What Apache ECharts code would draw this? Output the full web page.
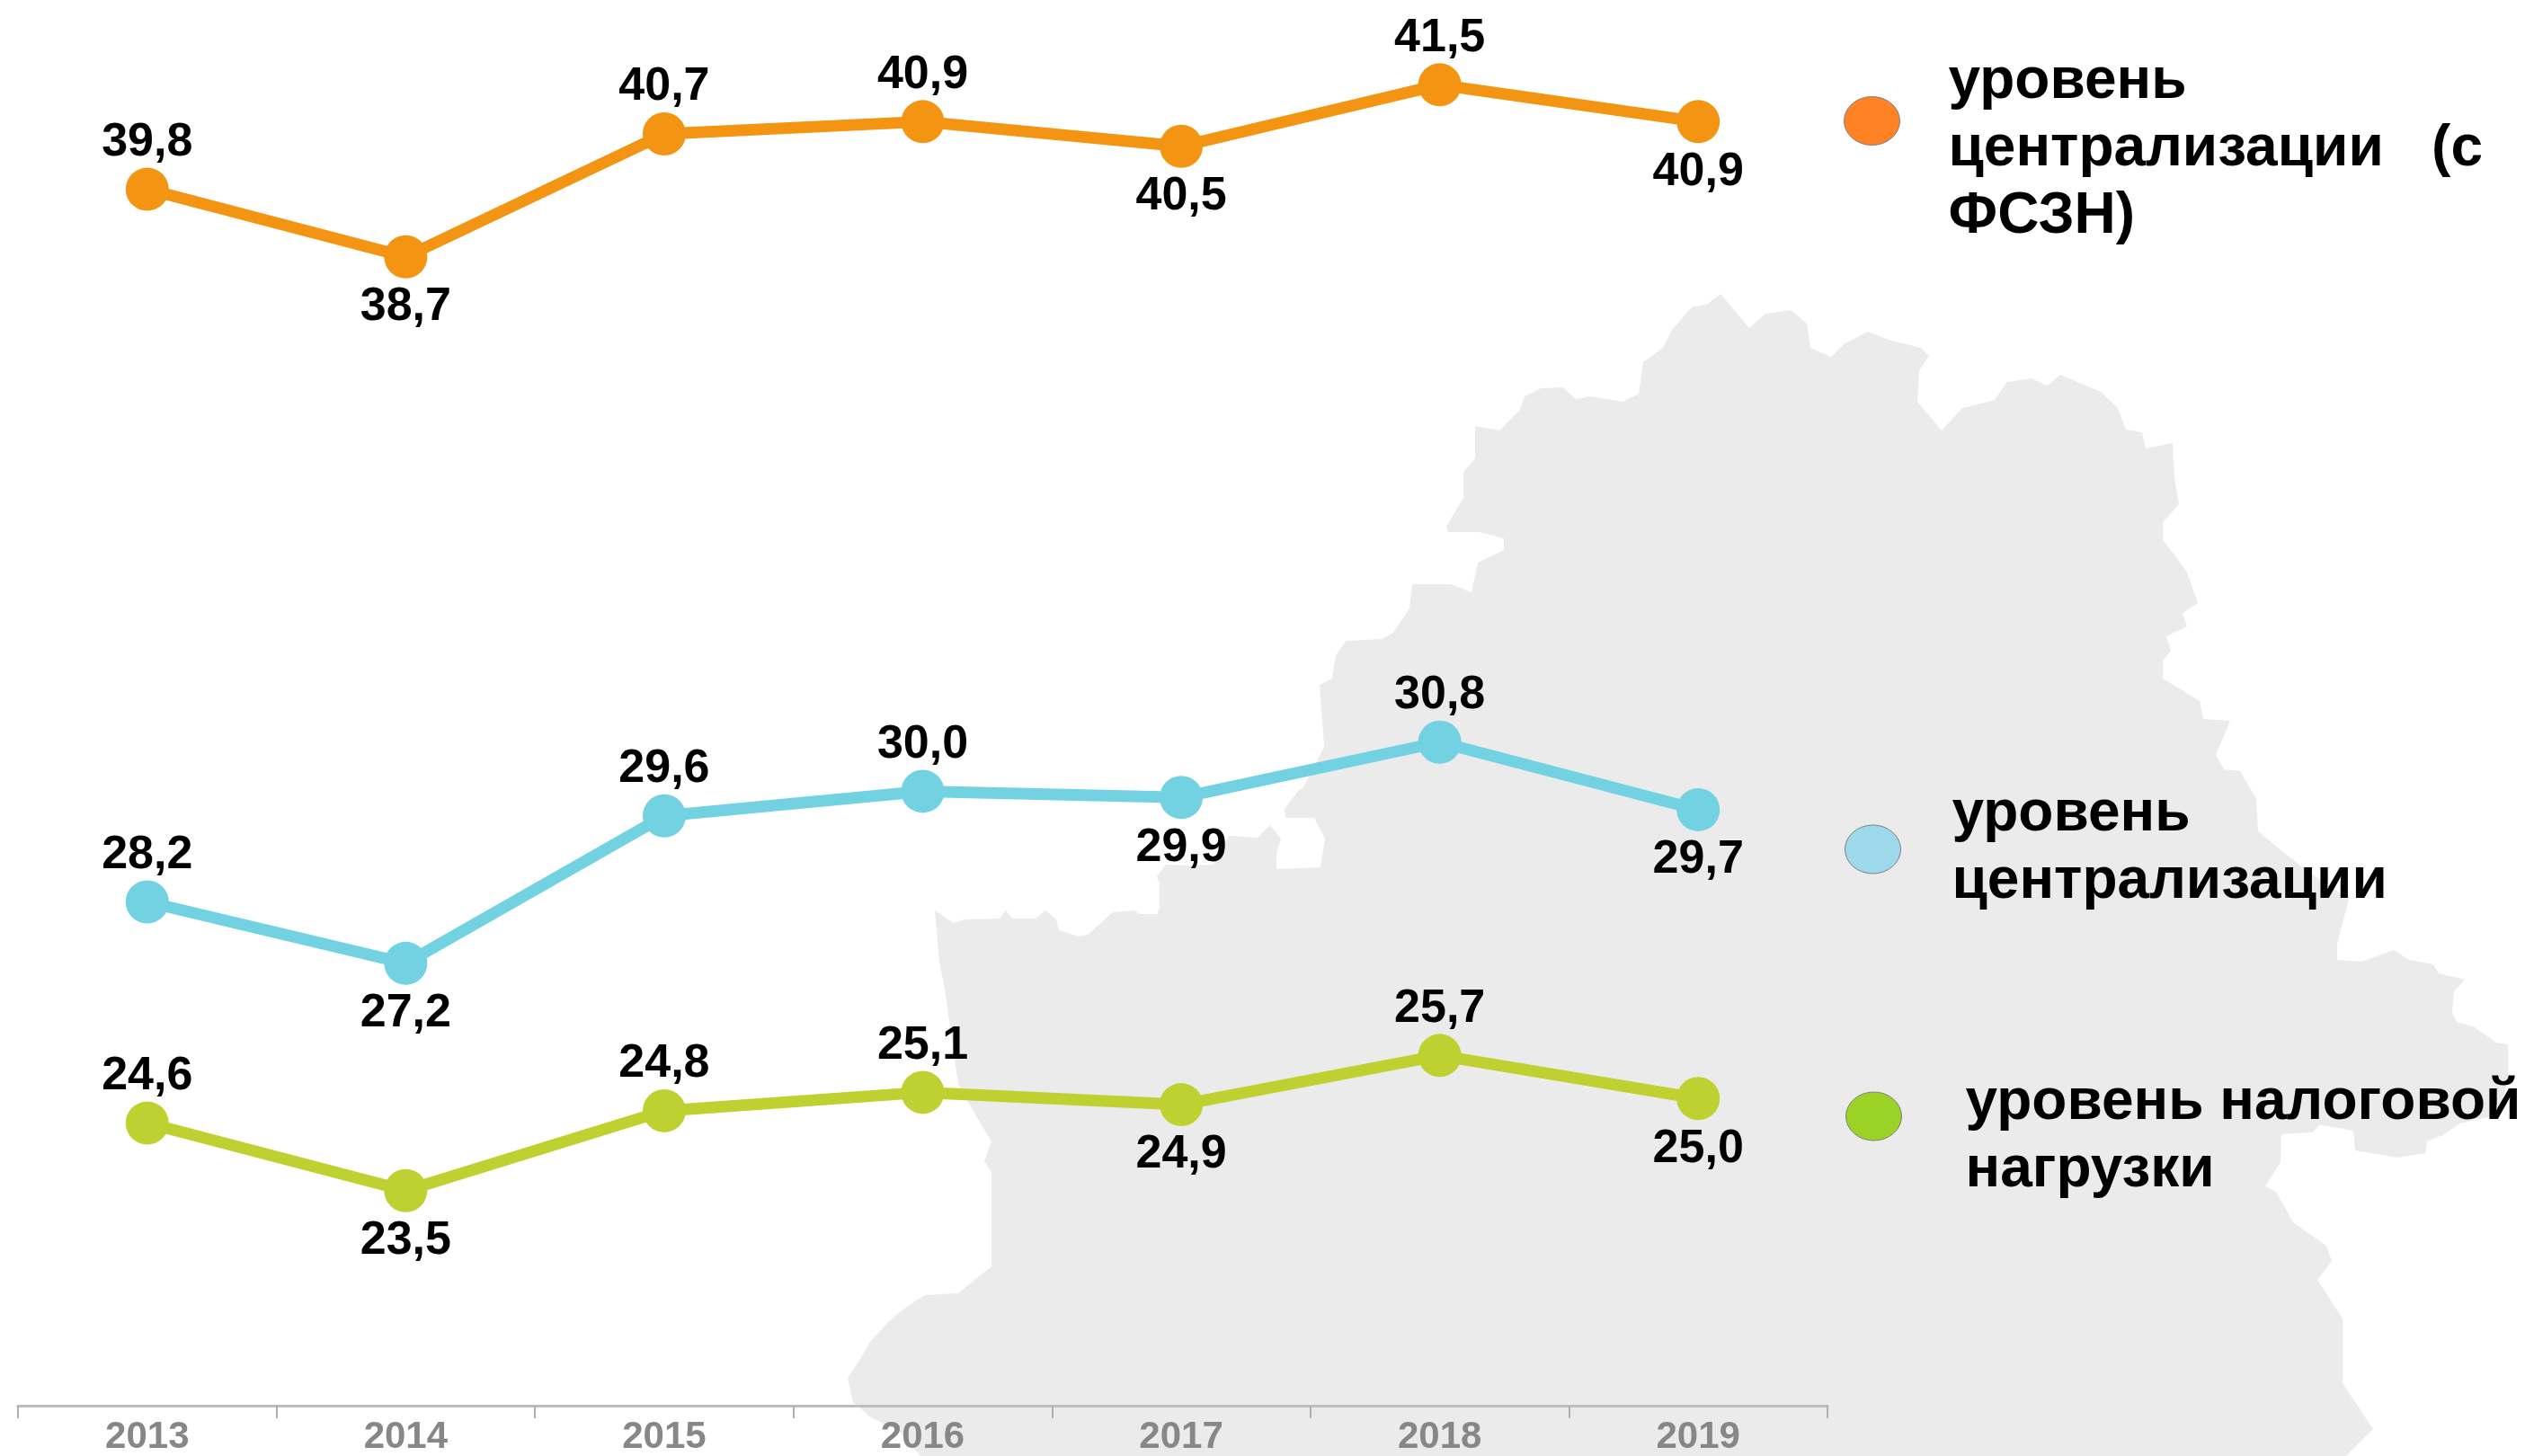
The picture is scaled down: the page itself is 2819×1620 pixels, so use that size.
<!DOCTYPE html>
<html><head><meta charset="utf-8">
<style>html,body{margin:0;padding:0;background:#fff}#c{width:2819px;height:1620px}</style>
<script src="https://cdn.jsdelivr.net/npm/echarts@6/dist/echarts.min.js"></script>
</head><body><div id="c"></div>
<script>
const years = ['2013','2014','2015','2016','2017','2018','2019'];
const seriesOrange = [39.8,38.7,40.7,40.9,40.5,41.5,40.9];
const seriesBlue = [28.2,27.2,29.6,30.0,29.9,30.8,29.7];
const seriesGreen = [24.6,23.5,24.8,25.1,24.9,25.7,25.0];
const nameOrange = 'уровень централизации (с ФСЗН)';
const nameBlue = 'уровень централизации';
const nameGreen = 'уровень налоговой нагрузки';
const labelSides = ['top','bottom','top','top','bottom','top','bottom'];
const legendLines = {
  [nameOrange]: ['уровень','централизации   (с','ФСЗН)'],
  [nameBlue]: ['уровень','централизации'],
  [nameGreen]: ['уровень налоговой','нагрузки']
};
// decorative background silhouette (not data)
const mapOutline = [[1040,1013],[1061,1027],[1073,1023],[1112,1022],[1119,1013],[1126,1022],[1152,1022],[1163,1013],[1175,1023],[1178,1035],[1200,1042],[1210,1040],[1238,1015],[1262,1013],[1268,1017],[1287,1017],[1290,1010],[1290,983],[1287,975],[1297,962],[1322,963],[1350,962],[1367,930],[1399,932],[1413,918],[1425,933],[1420,950],[1420,967],[1469,965],[1474,933],[1462,910],[1430,910],[1429,900],[1444,880],[1450,876],[1473,831],[1468,762],[1482,755],[1486,729],[1498,713],[1537,711],[1550,704],[1568,677],[1571,650],[1591,650],[1614,650],[1637,659],[1644,626],[1673,612],[1673,599],[1646,592],[1611,592],[1609,586],[1628,554],[1628,525],[1641,510],[1641,474],[1668,479],[1691,456],[1696,441],[1714,432],[1739,431],[1753,444],[1769,441],[1805,447],[1823,438],[1828,403],[1850,387],[1860,367],[1882,342],[1900,338],[1914,327],[1946,365],[1964,349],[1992,345],[2010,360],[2014,387],[2037,397],[2051,383],[2078,369],[2101,378],[2137,387],[2146,396],[2135,412],[2133,447],[2160,479],[2183,454],[2219,445],[2233,425],[2260,421],[2278,429],[2292,417],[2337,436],[2356,454],[2365,478],[2383,481],[2387,499],[2417,493],[2419,532],[2424,561],[2406,581],[2406,601],[2419,617],[2433,637],[2445,671],[2428,682],[2433,697],[2410,708],[2415,724],[2406,735],[2406,755],[2447,780],[2451,800],[2481,802],[2465,840],[2474,856],[2492,858],[2510,889],[2512,925],[2556,961],[2590,985],[2613,1000],[2600,1050],[2600,1068],[2627,1070],[2663,1057],[2680,1068],[2707,1073],[2713,1083],[2742,1090],[2730,1103],[2728,1127],[2733,1137],[2753,1143],[2777,1160],[2790,1162],[2790,1200],[2780,1240],[2737,1250],[2717,1263],[2700,1270],[2698,1283],[2667,1288],[2620,1280],[2618,1258],[2590,1253],[2580,1252],[2573,1260],[2538,1262],[2537,1293],[2520,1320],[2532,1326],[2551,1360],[2588,1386],[2594,1403],[2578,1424],[2606,1467],[2606,1539],[2640,1590],[2610,1620],[1024,1620],[1000,1592],[970,1578],[949,1560],[943,1533],[954,1517],[968,1493],[989,1470],[1010,1453],[1029,1441],[1066,1439],[1103,1409],[1103,1304],[1095,1292],[1103,1270],[1085,1240],[1066,1206],[1051,1100],[1045,1070]];

const FONT = '"Liberation Sans", Arial, sans-serif';
const ELLIPSE = 'path://M0 50a50 50 0 1 0 100 0a50 50 0 1 0 -100 0z';
const fmt = v => v.toFixed(1).replace('.', ',');
function line(name, values, color) {
  return {
    type: 'line', name, symbol: 'circle', symbolSize: 48, z: 3,
    lineStyle: { color, width: 13 }, itemStyle: { color },
    data: values.map((v, i) => ({
      value: v,
      label: { position: labelSides[i], distance: labelSides[i] === 'top' ? 2 : 6 }
    })),
    label: {
      show: true, color: '#000', fontFamily: FONT, fontWeight: 'bold', fontSize: 52,
      formatter: p => fmt(p.value)
    }
  };
}
function legend(name, fill, left, top, textGap, padTop, padBottom) {
  return {
    show: true, left, top, padding: 0, orient: 'vertical',
    itemWidth: 62, itemHeight: 54, symbolKeepAspect: false, selectedMode: false,
    data: [{ name, icon: ELLIPSE, itemStyle: { color: fill, borderColor: '#7f7f7f', borderWidth: 1, opacity: 1 } }],
    formatter: n => [
      ...(padTop ? ['{gapTop| }'] : []),
      ...legendLines[n].map(s => '{t|' + s + '}'),
      ...(padBottom ? ['{gapBottom| }'] : [])
    ].join('\n'),
    textStyle: {
      color: '#000', fontFamily: FONT, fontWeight: 'bold', fontSize: 64, lineHeight: 75,
      padding: [0, 0, 0, textGap],
      rich: {
        t: { color: '#000', fontFamily: FONT, fontWeight: 'bold', fontSize: 64, lineHeight: 75, height: 75 },
        gapTop: { fontSize: 10, lineHeight: padTop || 1, height: padTop || 1 },
        gapBottom: { fontSize: 10, lineHeight: padBottom || 1, height: padBottom || 1 }
      }
    }
  };
}
const chart = echarts.init(document.getElementById('c'), null, { renderer: 'canvas' });
chart.setOption({
  animation: false,
  backgroundColor: '#fff',
  graphic: [{ type: 'polygon', silent: true, z: -10, shape: { points: mapOutline }, style: { fill: '#ebebeb' } }],
  grid: { left: 20, width: 2013, top: 26, height: 1538 },
  xAxis: {
    type: 'category', data: years, boundaryGap: true,
    axisLine: { lineStyle: { color: '#bdbdbd', width: 3 } },
    axisTick: { show: true, length: 14, lineStyle: { color: '#b0b0b0', width: 2 } },
    axisLabel: { color: '#878787', fontFamily: FONT, fontWeight: 'bold', fontSize: 42, margin: 14 },
    splitLine: { show: false }
  },
  yAxis: { type: 'value', min: 20, max: 42.5, show: false, splitLine: { show: false } },
  legend: [
    legend(nameOrange, '#ff8224', 2051, -10, 49, 64, 0),
    legend(nameBlue, '#9dd9eb', 2052, 869, 52, 0, 2),
    legend(nameGreen, '#9bd226', 2053, 1144, 66, 46, 0)
  ],
  series: [
    line(nameOrange, seriesOrange, '#f39412'),
    line(nameBlue, seriesBlue, '#72d2e2'),
    line(nameGreen, seriesGreen, '#bfd131')
  ]
});
</script></body></html>
